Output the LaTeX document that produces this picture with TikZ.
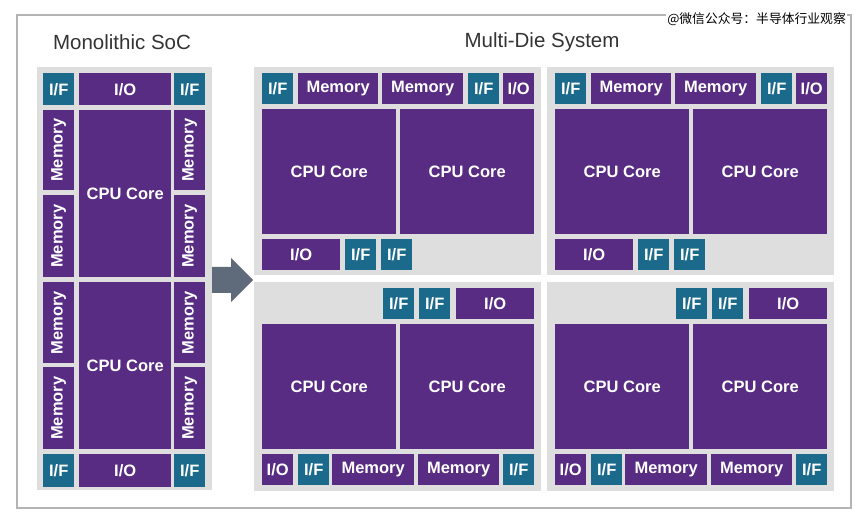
\documentclass[tikz,border=0pt]{standalone}
\usepackage{fontspec}
\setmainfont{Liberation Sans}
\newfontfamily\cjkfont{Noto Sans CJK SC}
\usepackage{graphicx}
\usetikzlibrary{positioning}
\definecolor{chippurple}{HTML}{582C83}
\definecolor{chipteal}{HTML}{1B6A8B}
\definecolor{diegray}{HTML}{DEDEDE}
\definecolor{arrowgray}{HTML}{5F6B7A}
\definecolor{framegray}{HTML}{B4B4B4}
\tikzset
{
    blk/.style     = {rectangle, inner sep=0pt, anchor=north west, text=white, font=\fontsize{16.5}{19}\selectfont\bfseries},
    cpu/.style     = {blk, fill=chippurple},
    iface/.style   = {blk, fill=chipteal},
    diebox/.style  = {rectangle, fill=diegray, inner sep=0pt, anchor=north west},
    paneltitle/.style = {text=black!80, font=\fontsize{20.5}{24}\selectfont}
}
\newcommand{\chipblk}[7]{\node[#1, minimum width=#5, minimum height=#6] (#2) at (#3,#4) {#7};}
\newcommand{\vmem}{\rotatebox{90}{Memory}}

\begin{document}
\begin{tikzpicture}[x=1pt, y=-1pt]
    \useasboundingbox (0,0) rectangle (865,518);
    \draw[framegray, line width=2.5pt] (17,15) rectangle (851,508);
    \node[fill=white, inner sep=1pt, anchor=east, font=\cjkfont\fontsize{12.8}{14}\selectfont] (mark) at (847,19) {@微信公众号：半导体行业观察};

    % monolithic
    \node[paneltitle] (monotitle) at (122,42) {Monolithic SoC};
    \node[diebox, minimum width=175, minimum height=423] (mono) at (37,67) {};
    \chipblk{iface}{m-if1}{43}{73}{31}{32}{I/F}
    \chipblk{cpu}{m-io1}{79}{73}{92}{32}{I/O}
    \chipblk{iface}{m-if2}{174}{73}{31}{32}{I/F}
    \foreach \y/\h/\i in {110/80/1,195/82/2,282/81/3,367/82/4}
    {
        \chipblk{cpu}{m-meml\i}{43}{\y}{31}{\h}{\vmem}
        \chipblk{cpu}{m-memr\i}{174}{\y}{31}{\h}{\vmem}
    }
    \chipblk{cpu}{m-cpu1}{79}{110}{92}{167}{CPU Core}
    \chipblk{cpu}{m-cpu2}{79}{282}{92}{167}{CPU Core}
    \chipblk{iface}{m-if3}{43}{454}{31}{33}{I/F}
    \chipblk{cpu}{m-io2}{79}{454}{92}{33}{I/O}
    \chipblk{iface}{m-if4}{174}{454}{31}{33}{I/F}

    \fill[arrowgray] (212,267) -- (231,267) -- (231,258) -- (253,280) -- (231,302) -- (231,293) -- (212,293) -- cycle;

    % multi-die
    \node[paneltitle] (multititle) at (542,42) {Multi-Die System};
    \foreach \dx/\d in {254/a,547/b}
    {
        \begin{scope}[shift={(\dx,67)}]
            \node[diebox, minimum width=287, minimum height=208] (top\d) at (0,0) {};
            \chipblk{iface}{top\d-if1}{8}{6}{31}{31}{I/F}
            \chipblk{cpu}{top\d-mem1}{44}{6}{80}{31}{Memory}
            \chipblk{cpu}{top\d-mem2}{128}{6}{81}{31}{Memory}
            \chipblk{iface}{top\d-if2}{214}{6}{31}{31}{I/F}
            \chipblk{cpu}{top\d-io1}{249}{6}{31}{31}{I/O}
            \chipblk{cpu}{top\d-cpu1}{8}{42}{134}{125}{CPU Core}
            \chipblk{cpu}{top\d-cpu2}{146}{42}{134}{125}{CPU Core}
            \chipblk{cpu}{top\d-io2}{8}{172}{78}{31}{I/O}
            \chipblk{iface}{top\d-if3}{91}{172}{31}{31}{I/F}
            \chipblk{iface}{top\d-if4}{127}{172}{31}{31}{I/F}
        \end{scope}
        \begin{scope}[shift={(\dx,282)}]
            \node[diebox, minimum width=287, minimum height=209] (bot\d) at (0,0) {};
            \chipblk{iface}{bot\d-if1}{129}{6}{31}{31}{I/F}
            \chipblk{iface}{bot\d-if2}{165}{6}{31}{31}{I/F}
            \chipblk{cpu}{bot\d-io1}{202}{6}{78}{31}{I/O}
            \chipblk{cpu}{bot\d-cpu1}{8}{42}{134}{125}{CPU Core}
            \chipblk{cpu}{bot\d-cpu2}{146}{42}{134}{125}{CPU Core}
            \chipblk{cpu}{bot\d-io2}{8}{172}{31}{31}{I/O}
            \chipblk{iface}{bot\d-if3}{44}{172}{31}{31}{I/F}
            \chipblk{cpu}{bot\d-mem1}{78}{172}{82}{31}{Memory}
            \chipblk{cpu}{bot\d-mem2}{164}{172}{81}{31}{Memory}
            \chipblk{iface}{bot\d-if4}{249}{172}{31}{31}{I/F}
        \end{scope}
    }
\end{tikzpicture}
\end{document}
